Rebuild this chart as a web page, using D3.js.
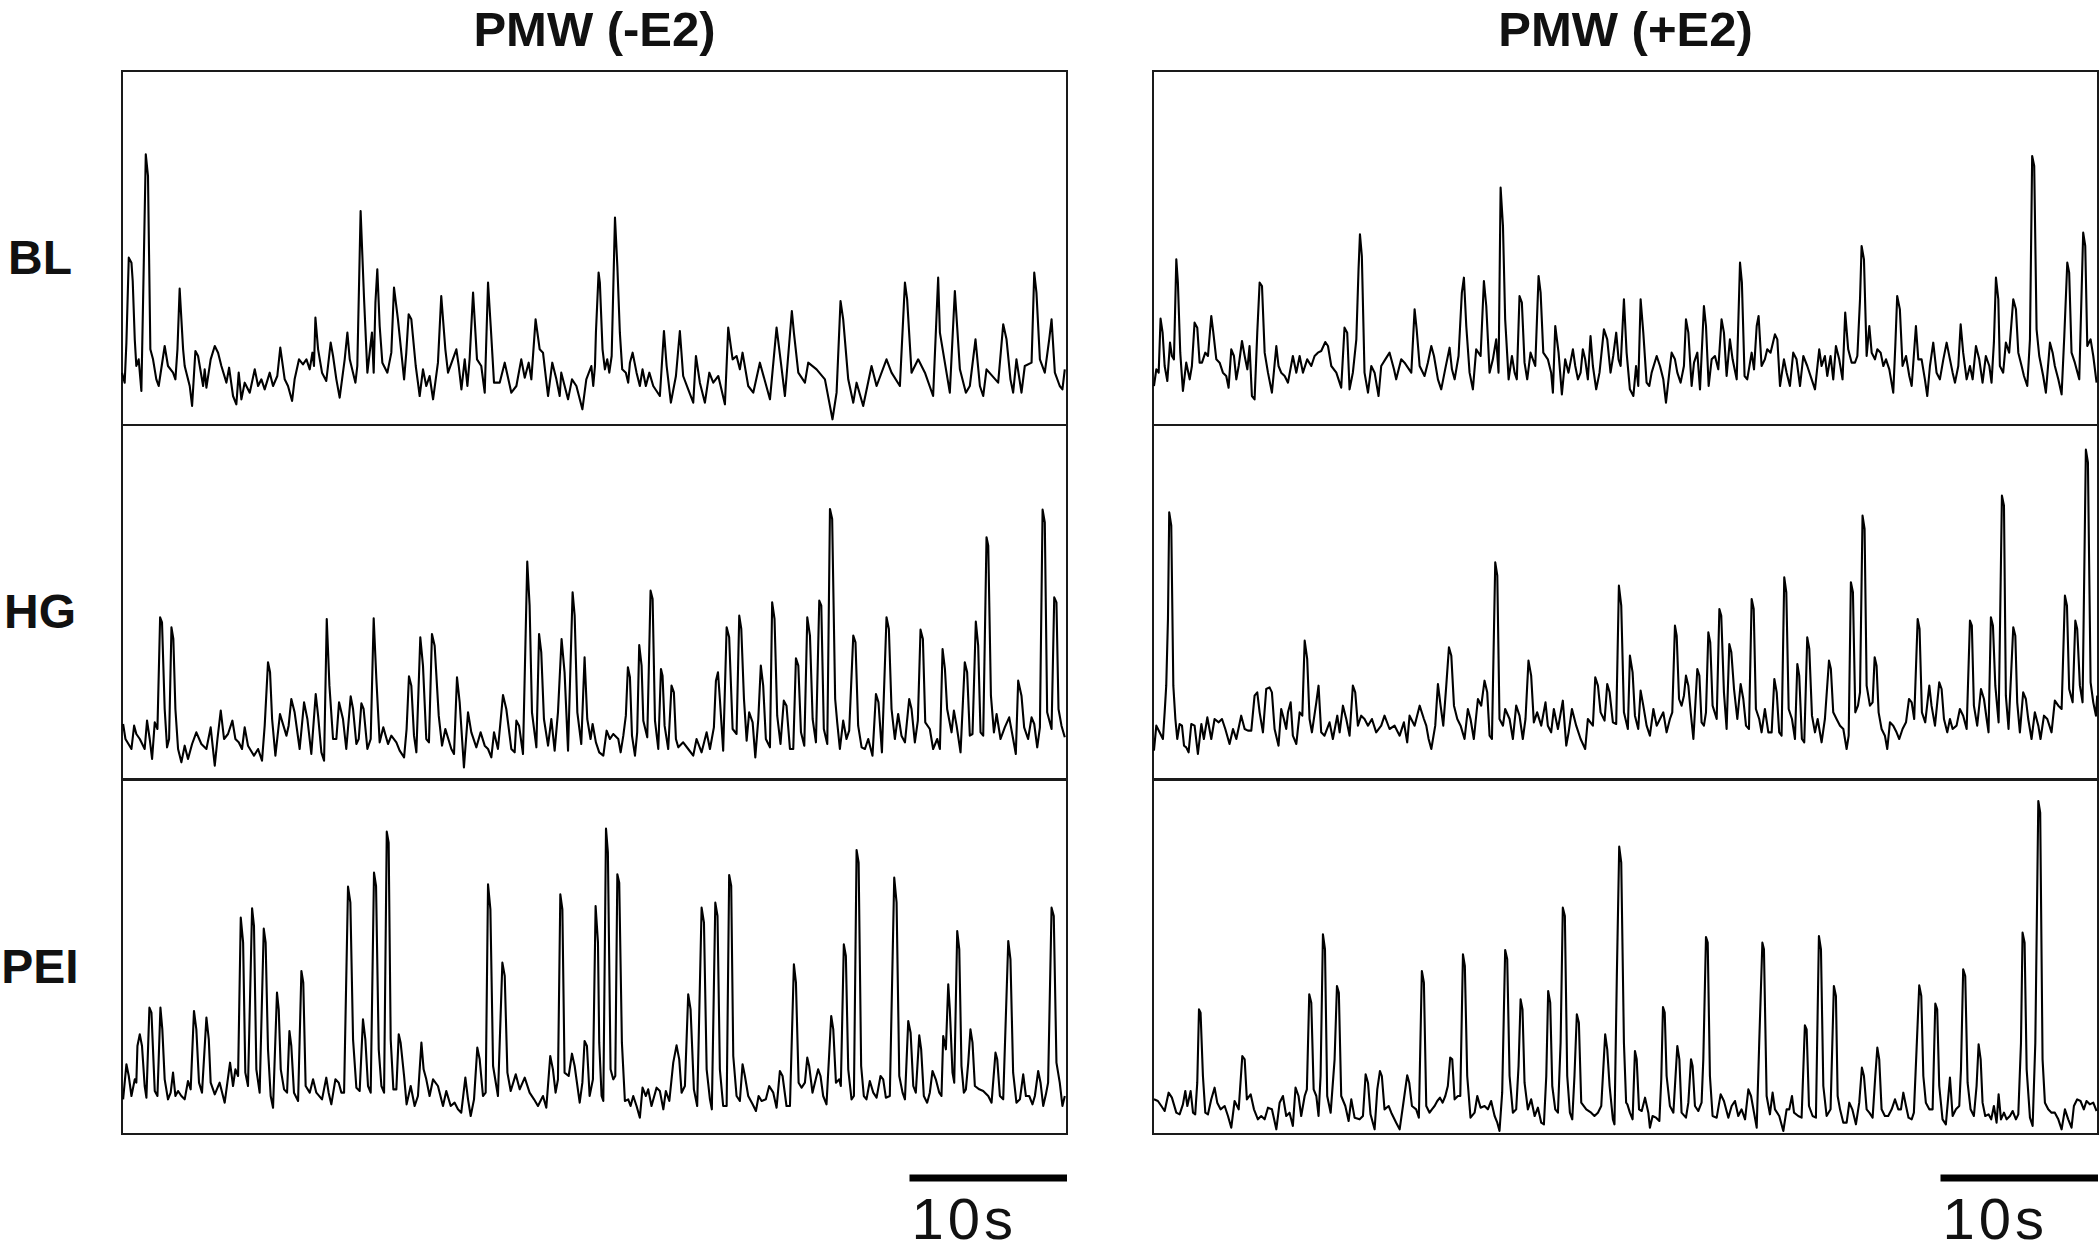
<!DOCTYPE html>
<html>
<head>
<meta charset="utf-8">
<script src="https://cdnjs.cloudflare.com/ajax/libs/d3/7.8.5/d3.min.js"></script>
<style>
  body { margin: 0; background: #fff; }
  text { font-family: Arial, "Liberation Sans", sans-serif; fill: #111; }
</style>
</head>
<body>
<svg width="2100" height="1252"></svg>
<script>
var conditions = ['PMW (-E2)', 'PMW (+E2)'];
var stages = ['BL', 'HG', 'PEI'];
var recordLength = 60;   // seconds shown in each trace
var scaleBarSeconds = 10;
var signalMax = 106.2;   // dF, arbitrary units, full height of a row

// each trace: [time (s), dF (a.u.)]
var blMinus = [[0.00,15.7],[0.17,12.7],[0.28,24.7],[0.43,50.2],[0.60,48.7],[0.68,43.2],[0.81,25.7],[0.91,17.7],[1.06,19.7],[1.23,10.2],[1.34,37.7],[1.51,81.2],[1.65,74.7],[1.80,22.7],[1.97,19.7],[2.18,13.7],[2.33,11.7],[2.71,23.7],[2.92,17.7],[3.24,15.7],[3.39,13.7],[3.52,22.7],[3.66,40.9],[3.88,22.7],[3.98,17.7],[4.30,11.7],[4.45,5.7],[4.66,22.2],[4.83,20.7],[5.15,11.7],[5.25,16.7],[5.36,11.2],[5.63,19.7],[5.89,23.7],[6.10,21.7],[6.31,17.7],[6.63,12.7],[6.80,17.2],[7.05,8.7],[7.26,6.2],[7.41,15.7],[7.58,7.7],[7.79,12.7],[8.11,9.7],[8.43,16.7],[8.64,11.7],[8.85,13.7],[9.06,10.7],[9.38,15.7],[9.59,11.7],[9.86,14.7],[10.05,23.2],[10.33,13.7],[10.54,11.7],[10.80,7.2],[10.96,13.7],[11.24,19.7],[11.49,18.2],[11.71,19.7],[11.92,16.7],[12.09,21.7],[12.19,17.7],[12.28,32.2],[12.45,22.7],[12.70,15.7],[12.97,13.2],[13.25,24.7],[13.40,20.7],[13.61,13.7],[13.82,8.2],[14.14,19.7],[14.31,27.7],[14.46,19.7],[14.82,12.7],[14.94,17.7],[15.15,64.2],[15.37,37.7],[15.58,15.7],[15.87,27.7],[15.98,15.7],[16.09,36.7],[16.21,46.7],[16.36,29.7],[16.53,18.7],[16.85,15.7],[17.10,21.7],[17.27,41.2],[17.52,31.7],[17.91,13.7],[18.05,21.7],[18.20,33.2],[18.37,31.7],[18.65,17.7],[18.79,12.7],[18.90,8.7],[19.11,16.7],[19.32,11.7],[19.53,14.7],[19.75,7.7],[20.06,18.7],[20.27,38.7],[20.53,22.7],[20.70,15.7],[21.23,22.7],[21.38,17.7],[21.55,10.7],[21.76,19.7],[21.93,11.7],[22.07,19.7],[22.29,39.7],[22.54,19.7],[22.81,17.7],[23.03,9.7],[23.24,42.7],[23.41,29.7],[23.62,12.7],[23.98,12.7],[24.30,18.7],[24.72,9.7],[25.04,11.7],[25.35,19.7],[25.57,14.2],[25.82,18.7],[25.99,13.7],[26.26,31.7],[26.52,22.7],[26.73,21.7],[27.05,8.7],[27.32,18.7],[27.58,13.7],[27.79,8.7],[27.89,15.7],[28.32,7.7],[28.57,13.7],[28.85,11.7],[29.23,4.7],[29.48,13.7],[29.80,17.7],[29.92,11.7],[30.03,17.7],[30.09,27.7],[30.26,45.7],[30.34,42.7],[30.51,22.7],[30.66,16.7],[30.81,19.7],[30.94,15.7],[31.09,20.7],[31.30,62.2],[31.45,47.7],[31.61,27.7],[31.76,16.7],[31.99,15.7],[32.14,12.7],[32.25,18.7],[32.42,21.7],[32.67,15.7],[32.88,11.7],[33.05,16.7],[33.26,11.7],[33.48,15.7],[33.73,11.7],[34.15,8.7],[34.41,28.2],[34.58,17.7],[34.85,6.7],[35.17,14.7],[35.42,28.2],[35.63,14.7],[35.95,10.7],[36.27,6.7],[36.44,20.7],[36.69,12.7],[37.01,6.7],[37.29,15.7],[37.54,12.7],[37.86,14.7],[38.28,6.2],[38.49,29.2],[38.77,19.7],[39.02,20.7],[39.23,16.7],[39.40,21.7],[39.76,11.7],[40.08,9.7],[40.50,18.7],[41.14,7.7],[41.56,29.2],[41.81,19.7],[42.09,8.7],[42.53,34.2],[42.66,27.7],[42.94,15.7],[43.36,12.7],[43.57,18.7],[44.10,16.7],[44.63,13.7],[45.11,1.7],[45.37,9.7],[45.62,37.2],[45.79,31.7],[46.11,13.7],[46.43,6.7],[46.64,12.7],[47.06,5.7],[47.59,17.7],[47.91,11.7],[48.54,19.7],[48.86,15.7],[49.39,11.7],[49.71,42.7],[49.85,37.7],[50.13,15.7],[50.55,19.7],[50.98,15.7],[51.50,8.7],[51.82,44.2],[51.93,27.7],[52.56,9.7],[52.88,40.2],[53.20,16.7],[53.58,9.7],[53.83,11.7],[54.19,25.7],[54.47,11.7],[54.68,8.7],[54.89,16.7],[55.63,12.7],[55.95,30.2],[56.16,25.7],[56.41,13.7],[56.58,9.7],[56.79,19.7],[57.11,9.7],[57.32,17.7],[57.75,18.7],[57.92,45.7],[58.06,39.7],[58.28,19.7],[58.59,15.7],[58.87,25.7],[59.02,31.7],[59.23,15.7],[59.54,11.7],[59.71,10.7],[59.86,16.7]];

var hgMinus = [[0.07,16.5],[0.22,12.0],[0.60,9.0],[0.77,16.0],[0.91,13.5],[1.13,12.0],[1.44,9.0],[1.59,17.5],[1.76,12.0],[1.91,6.0],[2.08,17.0],[2.25,15.0],[2.42,48.5],[2.54,47.0],[2.71,21.0],[2.86,9.5],[2.99,12.0],[3.14,45.5],[3.26,42.0],[3.39,21.0],[3.56,9.0],[3.77,5.0],[3.98,10.0],[4.19,6.0],[4.45,10.5],[4.72,14.0],[5.04,10.5],[5.36,9.0],[5.63,15.5],[5.89,4.0],[6.06,12.0],[6.27,20.5],[6.48,12.0],[6.73,13.5],[7.01,17.5],[7.20,12.0],[7.41,11.0],[7.62,9.0],[7.79,15.5],[8.00,10.0],[8.38,7.0],[8.64,9.0],[8.89,5.5],[9.06,16.0],[9.27,35.0],[9.40,32.0],[9.53,18.0],[9.74,7.0],[10.03,19.5],[10.25,16.0],[10.44,13.0],[10.58,16.0],[10.75,24.0],[10.96,20.0],[11.28,9.0],[11.56,23.0],[11.77,18.0],[12.02,7.5],[12.30,25.5],[12.45,19.0],[12.66,8.0],[12.83,5.5],[13.00,48.0],[13.17,28.0],[13.40,12.0],[13.61,12.0],[13.78,23.0],[14.03,18.0],[14.24,9.0],[14.52,24.8],[14.67,21.0],[14.88,10.5],[15.03,12.0],[15.20,22.7],[15.34,21.0],[15.58,9.0],[15.79,12.0],[15.98,48.2],[16.15,30.0],[16.36,11.0],[16.59,15.5],[16.89,10.5],[17.10,13.0],[17.42,11.0],[17.63,8.5],[17.91,6.5],[18.07,15.0],[18.22,30.8],[18.37,28.0],[18.54,13.0],[18.69,8.0],[18.94,42.5],[19.11,34.0],[19.32,12.0],[19.49,11.0],[19.68,43.5],[19.85,40.0],[20.11,19.0],[20.32,10.0],[20.53,15.0],[20.91,9.0],[21.08,7.5],[21.27,30.5],[21.44,23.0],[21.71,3.5],[21.97,20.0],[22.18,14.0],[22.50,9.5],[22.77,14.0],[23.03,10.0],[23.24,9.0],[23.45,6.5],[23.62,14.0],[23.87,9.0],[24.19,25.2],[24.40,21.0],[24.72,9.0],[24.93,8.0],[25.04,17.5],[25.21,16.0],[25.46,7.5],[25.73,65.2],[25.88,52.0],[26.03,20.0],[26.31,9.5],[26.48,43.5],[26.62,38.0],[26.79,18.0],[27.05,10.0],[27.26,18.0],[27.47,8.5],[27.68,20.0],[27.91,42.0],[28.10,32.0],[28.32,8.5],[28.61,56.0],[28.74,49.0],[28.91,20.0],[29.16,10.5],[29.37,36.5],[29.54,18.0],[29.75,12.0],[29.88,16.5],[30.09,11.0],[30.30,8.0],[30.56,7.0],[30.77,14.5],[30.98,12.0],[31.19,13.5],[31.51,12.0],[31.66,8.0],[31.83,13.0],[31.99,19.0],[32.12,33.5],[32.25,30.5],[32.38,13.0],[32.57,7.0],[32.71,14.0],[32.84,40.2],[32.99,34.0],[33.10,17.5],[33.35,12.5],[33.56,56.5],[33.69,54.0],[33.84,17.5],[34.05,9.0],[34.22,33.0],[34.32,31.0],[34.45,16.0],[34.68,9.0],[34.89,28.0],[35.04,26.0],[35.17,12.0],[35.32,9.5],[35.63,11.0],[35.95,9.0],[36.27,7.0],[36.48,12.0],[36.80,8.0],[37.12,14.0],[37.33,9.0],[37.58,15.5],[37.71,29.5],[37.84,32.0],[37.96,24.0],[38.17,8.5],[38.39,45.5],[38.55,42.5],[38.77,15.0],[39.02,13.5],[39.19,49.0],[39.32,45.0],[39.49,24.0],[39.66,11.5],[39.82,20.0],[40.04,17.0],[40.21,6.5],[40.40,18.0],[40.56,34.0],[40.71,28.0],[40.88,12.0],[41.14,9.5],[41.28,53.0],[41.43,48.0],[41.60,19.0],[41.81,10.5],[42.02,23.5],[42.19,22.0],[42.41,9.0],[42.62,9.0],[42.79,36.2],[42.94,34.0],[43.11,14.0],[43.32,10.0],[43.51,48.5],[43.68,43.0],[43.85,18.0],[44.06,11.0],[44.27,53.5],[44.40,52.0],[44.56,15.0],[44.78,10.5],[44.95,81.0],[45.09,78.0],[45.28,24.0],[45.41,17.0],[45.58,9.0],[45.79,17.5],[46.00,12.0],[46.17,14.5],[46.43,43.0],[46.57,41.0],[46.74,16.0],[46.96,9.5],[47.17,9.0],[47.38,12.0],[47.65,7.0],[47.87,25.5],[48.03,23.0],[48.25,8.0],[48.54,48.5],[48.69,45.0],[48.86,21.0],[49.07,12.0],[49.28,19.5],[49.49,13.0],[49.71,11.0],[49.98,24.0],[50.13,21.0],[50.34,11.0],[50.53,17.5],[50.70,44.8],[50.85,42.0],[51.00,17.0],[51.29,15.0],[51.50,9.0],[51.76,12.0],[51.93,9.0],[52.10,39.0],[52.25,33.0],[52.39,21.0],[52.67,14.0],[52.82,20.5],[52.99,16.0],[53.24,8.0],[53.51,35.0],[53.66,32.0],[53.83,13.0],[54.00,13.5],[54.21,47.2],[54.36,40.0],[54.51,14.0],[54.68,13.0],[54.89,72.5],[55.00,70.0],[55.17,25.0],[55.36,14.0],[55.53,19.5],[55.78,12.0],[56.05,15.5],[56.33,18.5],[56.58,12.0],[56.75,7.5],[56.90,29.5],[57.11,25.0],[57.28,15.5],[57.53,12.0],[57.75,18.5],[57.92,16.5],[58.11,9.5],[58.28,15.5],[58.45,80.8],[58.59,77.0],[58.74,20.0],[59.02,15.0],[59.19,54.5],[59.33,53.0],[59.46,21.0],[59.65,16.0],[59.86,12.5]];

var peiMinus = [[0.07,10.4],[0.28,20.9],[0.43,17.4],[0.60,11.4],[0.81,16.4],[0.91,15.4],[0.98,26.4],[1.13,29.9],[1.27,26.4],[1.44,14.4],[1.55,10.9],[1.74,37.9],[1.87,36.4],[2.08,12.9],[2.25,11.4],[2.44,37.9],[2.56,31.4],[2.71,16.4],[2.92,10.4],[3.09,12.4],[3.24,18.4],[3.39,11.4],[3.56,12.9],[3.77,11.4],[3.98,10.4],[4.19,15.9],[4.36,13.4],[4.57,36.9],[4.72,31.4],[4.89,15.4],[5.08,12.4],[5.36,34.9],[5.51,28.4],[5.63,15.4],[5.89,11.9],[6.20,15.4],[6.52,9.4],[6.69,15.4],[6.86,21.4],[7.05,14.4],[7.20,19.4],[7.37,17.4],[7.54,64.9],[7.69,57.4],[7.83,18.4],[8.00,14.4],[8.26,67.7],[8.38,62.4],[8.53,19.4],[8.74,12.4],[9.00,61.6],[9.12,57.4],[9.27,25.4],[9.44,11.4],[9.59,7.9],[9.84,42.4],[9.95,37.4],[10.08,19.4],[10.29,13.4],[10.48,12.4],[10.63,30.9],[10.75,26.4],[10.92,12.4],[11.18,9.9],[11.39,48.9],[11.51,45.4],[11.66,14.4],[11.92,12.4],[12.13,16.4],[12.34,12.4],[12.70,10.4],[12.97,16.9],[13.12,12.4],[13.29,8.9],[13.55,16.4],[13.76,15.4],[13.93,12.4],[14.10,12.4],[14.35,74.2],[14.50,69.4],[14.67,28.4],[14.88,13.9],[15.09,12.9],[15.30,34.4],[15.45,28.4],[15.62,14.4],[15.79,12.4],[16.00,78.4],[16.13,74.4],[16.30,25.4],[16.47,14.4],[16.64,12.4],[16.81,90.7],[16.93,87.4],[17.06,28.4],[17.23,13.4],[17.42,13.4],[17.57,29.9],[17.69,27.4],[17.91,17.4],[18.07,8.9],[18.33,14.4],[18.58,8.4],[18.79,11.4],[19.01,27.4],[19.15,19.4],[19.32,16.4],[19.53,11.4],[19.75,16.4],[20.06,14.4],[20.38,8.4],[20.59,12.9],[20.87,8.4],[21.12,9.4],[21.33,7.4],[21.54,6.4],[21.80,16.9],[21.97,10.4],[22.14,5.4],[22.35,10.4],[22.56,25.9],[22.71,22.4],[22.92,11.4],[23.09,12.4],[23.24,74.9],[23.39,67.4],[23.56,20.4],[23.87,11.4],[24.15,51.4],[24.30,47.4],[24.47,18.4],[24.68,12.9],[25.00,17.9],[25.25,13.4],[25.57,16.9],[25.88,12.4],[26.16,10.4],[26.41,8.4],[26.73,11.4],[26.94,7.9],[27.19,23.4],[27.36,19.4],[27.53,12.4],[27.68,16.4],[27.83,71.9],[27.96,67.4],[28.10,18.4],[28.36,17.4],[28.57,24.1],[28.74,20.4],[29.06,9.4],[29.23,15.4],[29.37,27.9],[29.52,26.4],[29.69,11.4],[29.90,16.4],[30.07,68.4],[30.22,57.4],[30.30,27.4],[30.45,11.4],[30.56,9.9],[30.73,91.6],[30.85,84.4],[31.02,19.4],[31.19,16.4],[31.32,17.4],[31.45,77.9],[31.57,75.4],[31.74,27.4],[31.93,9.9],[32.14,10.4],[32.29,8.4],[32.46,11.4],[32.67,8.4],[32.88,4.9],[33.05,13.9],[33.26,11.4],[33.41,13.4],[33.62,8.4],[33.94,13.9],[34.15,12.9],[34.37,7.4],[34.53,12.9],[34.75,9.9],[35.00,21.4],[35.21,26.6],[35.38,22.4],[35.53,12.4],[35.74,14.4],[35.95,41.9],[36.10,37.4],[36.31,13.4],[36.52,8.4],[36.80,67.9],[36.95,63.4],[37.12,19.4],[37.33,10.4],[37.45,7.4],[37.67,69.4],[37.81,65.4],[37.96,19.4],[38.17,8.4],[38.39,8.4],[38.55,77.7],[38.68,74.4],[38.81,23.4],[39.02,11.4],[39.23,9.9],[39.40,20.9],[39.55,17.4],[39.76,11.4],[40.04,8.9],[40.25,6.9],[40.42,11.4],[40.61,9.9],[40.88,10.4],[41.09,14.4],[41.35,12.4],[41.56,7.9],[41.77,18.9],[41.94,17.4],[42.19,8.4],[42.41,8.4],[42.66,50.9],[42.79,45.4],[42.96,15.4],[43.15,13.9],[43.36,15.4],[43.51,22.9],[43.63,20.4],[43.84,12.4],[44.20,19.4],[44.35,17.4],[44.52,11.4],[44.73,8.9],[45.03,35.4],[45.16,31.4],[45.33,15.4],[45.54,16.4],[45.64,14.4],[45.83,56.9],[45.96,53.4],[46.11,19.4],[46.32,10.4],[46.47,11.4],[46.64,85.2],[46.77,81.4],[46.93,20.4],[47.10,11.4],[47.27,10.4],[47.48,15.9],[47.70,12.4],[47.91,10.9],[48.16,17.4],[48.33,16.4],[48.50,10.9],[48.75,11.4],[49.03,76.9],[49.18,69.4],[49.35,17.4],[49.56,12.4],[49.71,10.4],[49.92,33.9],[50.07,30.4],[50.24,14.4],[50.40,12.4],[50.62,29.6],[50.74,25.4],[50.91,11.4],[51.12,9.4],[51.29,12.4],[51.46,18.9],[51.67,16.4],[51.89,12.4],[52.03,11.4],[52.14,29.4],[52.31,25.4],[52.46,44.9],[52.56,37.4],[52.73,18.4],[52.84,15.4],[53.03,60.9],[53.16,55.4],[53.30,20.4],[53.45,12.4],[53.58,13.4],[53.73,21.4],[53.87,31.4],[54.00,27.4],[54.15,14.4],[54.43,13.4],[54.68,12.9],[55.00,11.4],[55.21,9.4],[55.46,24.4],[55.57,22.4],[55.74,11.4],[55.95,10.4],[56.27,57.9],[56.41,52.4],[56.58,18.4],[56.79,9.4],[57.01,10.4],[57.22,17.9],[57.39,11.4],[57.60,11.4],[57.81,8.9],[57.96,11.4],[58.17,18.9],[58.32,15.4],[58.49,8.4],[58.66,11.9],[58.80,15.4],[59.02,67.9],[59.16,65.4],[59.33,21.4],[59.54,15.4],[59.71,8.4],[59.86,11.4]];

var blPlus = [[0.06,11.7],[0.21,16.7],[0.36,15.7],[0.48,31.9],[0.61,27.7],[0.74,17.7],[0.91,13.2],[1.08,24.7],[1.20,20.7],[1.33,19.7],[1.48,49.7],[1.58,42.7],[1.73,21.7],[1.90,10.2],[2.11,18.7],[2.33,13.7],[2.47,17.7],[2.64,30.7],[2.81,29.2],[2.96,18.7],[3.11,18.7],[3.32,21.7],[3.49,20.7],[3.70,32.7],[3.83,27.7],[4.02,19.7],[4.23,18.7],[4.44,15.7],[4.65,14.7],[4.80,11.2],[4.97,22.7],[5.14,20.7],[5.29,13.7],[5.44,17.7],[5.65,25.2],[5.82,20.7],[5.99,16.7],[6.13,23.7],[6.28,8.7],[6.45,7.7],[6.62,27.7],[6.77,42.7],[6.92,41.7],[7.09,21.7],[7.30,15.7],[7.55,9.7],[7.83,23.7],[7.97,17.7],[8.14,15.7],[8.36,14.7],[8.57,12.7],[8.88,20.7],[9.10,15.7],[9.31,20.7],[9.52,15.7],[9.79,19.7],[10.05,17.7],[10.26,20.7],[10.47,21.7],[10.68,22.2],[10.94,24.9],[11.11,23.7],[11.32,17.7],[11.64,15.7],[11.95,11.2],[12.16,29.2],[12.33,27.7],[12.48,10.7],[12.69,15.7],[12.91,25.7],[13.05,46.7],[13.14,57.2],[13.26,50.7],[13.43,15.7],[13.65,9.7],[13.86,17.7],[14.07,15.7],[14.32,8.7],[14.49,17.7],[14.75,19.7],[15.02,21.7],[15.30,16.7],[15.44,13.7],[15.76,19.7],[15.97,18.7],[16.40,15.7],[16.61,34.7],[16.74,28.7],[16.93,17.7],[17.24,14.7],[17.45,18.7],[17.67,23.7],[17.84,20.7],[18.09,13.7],[18.30,10.7],[18.55,16.7],[18.83,23.2],[18.98,16.7],[19.15,13.7],[19.40,20.7],[19.61,39.7],[19.74,44.2],[19.89,29.7],[20.10,15.7],[20.31,10.7],[20.52,22.7],[20.80,20.7],[21.01,43.2],[21.16,35.7],[21.37,15.7],[21.58,19.7],[21.79,25.7],[21.94,15.7],[22.07,71.2],[22.22,59.7],[22.36,31.7],[22.58,13.7],[22.79,20.7],[22.96,15.7],[23.10,13.7],[23.27,38.7],[23.42,36.7],[23.59,18.7],[23.76,13.7],[23.97,21.7],[24.12,19.7],[24.27,17.7],[24.48,44.7],[24.61,39.7],[24.78,21.7],[25.07,19.7],[25.28,15.7],[25.39,9.7],[25.54,29.7],[25.75,21.7],[25.96,9.2],[26.17,19.7],[26.38,15.7],[26.66,22.7],[26.81,17.7],[26.98,13.7],[27.15,15.7],[27.29,22.7],[27.44,19.7],[27.61,13.7],[27.78,26.7],[27.93,17.7],[28.14,10.7],[28.35,15.7],[28.63,28.7],[28.84,25.7],[29.05,15.7],[29.22,20.7],[29.41,27.7],[29.56,19.7],[29.69,17.7],[29.90,37.7],[30.07,21.7],[30.28,10.7],[30.50,8.7],[30.67,17.7],[30.81,11.7],[30.96,37.7],[31.13,27.7],[31.34,12.7],[31.51,11.7],[31.66,15.7],[31.98,20.7],[32.19,17.7],[32.40,13.7],[32.57,6.7],[32.78,15.7],[32.93,21.7],[33.14,19.7],[33.29,15.7],[33.50,12.7],[33.71,17.7],[33.84,31.7],[33.99,27.7],[34.20,11.7],[34.35,18.7],[34.56,21.7],[34.73,10.7],[34.98,35.7],[35.11,29.7],[35.28,11.7],[35.47,19.7],[35.68,20.7],[35.89,16.7],[36.10,31.7],[36.25,27.7],[36.42,14.7],[36.63,25.7],[36.80,19.7],[37.06,13.7],[37.27,48.7],[37.39,42.7],[37.56,14.7],[37.73,13.7],[38.01,21.7],[38.16,16.7],[38.33,29.7],[38.45,32.7],[38.64,17.7],[38.85,19.7],[39.00,22.7],[39.21,21.7],[39.49,27.2],[39.64,25.7],[39.81,11.7],[40.06,19.7],[40.23,15.7],[40.44,11.7],[40.65,21.7],[40.86,19.7],[41.08,11.7],[41.29,20.7],[41.54,17.7],[41.82,13.7],[42.03,10.7],[42.30,22.7],[42.45,17.7],[42.66,20.7],[42.81,14.7],[43.02,20.7],[43.19,13.7],[43.36,23.7],[43.57,19.7],[43.78,13.7],[43.95,33.7],[44.14,22.7],[44.36,18.7],[44.57,18.7],[44.72,20.7],[44.89,37.7],[44.99,53.7],[45.14,49.7],[45.31,20.7],[45.48,29.7],[45.63,21.7],[45.84,19.7],[45.99,22.7],[46.20,21.7],[46.37,17.7],[46.54,19.7],[46.75,16.7],[47.00,9.7],[47.13,23.7],[47.25,38.7],[47.42,34.7],[47.59,17.7],[47.81,20.7],[48.02,14.7],[48.17,11.7],[48.44,29.7],[48.59,19.7],[48.80,19.7],[49.01,13.7],[49.16,8.7],[49.33,17.7],[49.54,24.7],[49.75,15.7],[49.96,13.7],[50.18,19.7],[50.39,24.7],[50.60,19.7],[50.77,15.7],[50.92,12.7],[51.13,17.7],[51.28,30.2],[51.44,21.7],[51.66,13.7],[51.87,17.7],[52.04,13.7],[52.25,23.7],[52.46,19.7],[52.67,12.7],[52.88,20.7],[53.10,17.7],[53.24,12.7],[53.39,24.7],[53.52,44.2],[53.67,37.7],[53.77,17.7],[53.98,15.7],[54.15,24.7],[54.36,21.7],[54.62,37.7],[54.79,34.7],[54.94,21.7],[55.15,17.7],[55.30,14.7],[55.51,11.7],[55.68,25.7],[55.82,80.7],[55.95,77.7],[56.10,28.7],[56.27,20.7],[56.52,14.7],[56.69,9.7],[56.95,24.7],[57.12,21.7],[57.26,17.7],[57.48,13.7],[57.69,9.2],[57.86,26.7],[58.05,48.7],[58.17,45.7],[58.32,21.7],[58.53,18.7],[58.81,13.7],[59.06,57.7],[59.19,53.7],[59.32,23.7],[59.53,25.7],[59.70,20.7],[59.91,12.7]];

var hgPlus = [[0.06,8.5],[0.21,16.0],[0.42,14.0],[0.63,12.0],[0.74,20.0],[0.84,28.0],[0.95,48.0],[1.03,80.0],[1.16,76.0],[1.29,28.0],[1.42,18.0],[1.54,12.0],[1.69,16.5],[1.84,16.0],[1.97,10.0],[2.11,9.5],[2.26,8.0],[2.43,16.5],[2.64,16.0],[2.85,7.5],[3.07,16.5],[3.23,12.0],[3.45,18.5],[3.70,12.0],[3.91,18.0],[4.17,17.0],[4.38,18.0],[4.59,15.0],[4.86,10.5],[5.08,15.0],[5.29,12.0],[5.60,19.0],[5.82,15.0],[6.03,14.5],[6.24,14.5],[6.45,25.0],[6.62,26.0],[6.77,20.0],[6.98,14.0],[7.19,27.0],[7.40,27.5],[7.55,26.0],[7.72,15.0],[7.97,10.0],[8.14,21.0],[8.31,18.0],[8.46,15.0],[8.57,20.0],[8.74,23.0],[8.88,13.0],[9.10,10.5],[9.31,20.0],[9.48,19.0],[9.63,41.5],[9.79,36.0],[9.94,18.0],[10.09,14.0],[10.37,23.0],[10.51,28.0],[10.68,14.0],[10.89,13.0],[11.21,17.0],[11.42,12.0],[11.70,19.0],[11.85,14.0],[12.06,22.0],[12.27,18.0],[12.48,13.0],[12.69,28.0],[12.84,26.0],[13.01,16.0],[13.22,19.0],[13.43,18.0],[13.65,16.0],[13.90,18.0],[14.17,14.0],[14.49,16.0],[14.70,19.0],[15.02,15.0],[15.34,16.0],[15.66,13.0],[15.93,17.0],[16.14,11.0],[16.29,19.0],[16.61,16.0],[16.93,22.0],[17.20,18.0],[17.35,16.0],[17.50,12.0],[17.67,9.0],[17.92,16.0],[18.09,28.5],[18.26,22.0],[18.43,16.0],[18.62,28.0],[18.79,39.5],[18.94,37.0],[19.11,22.0],[19.32,18.0],[19.53,16.0],[19.78,12.0],[19.99,21.0],[20.16,18.0],[20.37,12.0],[20.63,24.0],[20.84,22.0],[21.05,29.5],[21.22,26.0],[21.37,13.0],[21.52,12.0],[21.73,65.0],[21.86,61.0],[22.00,18.0],[22.22,16.0],[22.36,21.0],[22.64,18.0],[22.85,12.0],[23.06,22.0],[23.27,19.0],[23.48,12.0],[23.65,18.0],[23.84,35.5],[24.01,31.0],[24.18,17.0],[24.39,20.0],[24.65,16.0],[24.92,23.0],[25.07,16.0],[25.28,14.0],[25.45,21.0],[25.71,15.0],[26.02,23.5],[26.24,10.0],[26.39,14.0],[26.60,21.0],[26.87,16.0],[27.15,12.0],[27.44,9.0],[27.61,18.0],[27.93,16.0],[28.08,30.5],[28.25,28.0],[28.42,20.0],[28.67,17.5],[28.84,28.5],[28.99,26.0],[29.20,17.0],[29.41,16.5],[29.58,58.0],[29.73,52.0],[29.90,20.0],[30.15,15.0],[30.28,37.0],[30.45,32.0],[30.60,19.0],[30.81,15.0],[30.96,26.5],[31.13,22.0],[31.34,16.0],[31.55,13.0],[31.77,21.0],[31.98,16.0],[32.19,18.0],[32.40,20.0],[32.61,14.0],[32.82,18.0],[32.97,20.0],[33.14,46.0],[33.25,43.0],[33.40,24.0],[33.56,22.0],[33.71,25.0],[33.84,31.0],[33.99,28.0],[34.14,20.0],[34.31,12.0],[34.56,33.0],[34.69,31.0],[34.83,17.0],[34.98,16.0],[35.11,20.0],[35.26,44.0],[35.38,41.0],[35.53,22.0],[35.79,18.0],[35.96,51.0],[36.08,49.0],[36.25,26.0],[36.42,15.0],[36.59,40.5],[36.72,38.0],[36.89,27.0],[37.10,18.0],[37.31,28.5],[37.48,24.0],[37.65,16.0],[37.84,15.0],[38.01,54.0],[38.14,51.0],[38.28,21.0],[38.49,18.0],[38.64,14.0],[38.85,21.0],[39.07,14.0],[39.28,14.0],[39.45,30.0],[39.60,26.0],[39.76,14.0],[39.91,13.0],[40.08,60.5],[40.21,56.0],[40.36,21.0],[40.57,18.0],[40.76,12.0],[40.91,34.5],[41.03,31.0],[41.20,12.0],[41.35,11.0],[41.54,42.5],[41.67,39.0],[41.84,19.0],[42.03,14.0],[42.20,18.0],[42.45,11.0],[42.66,18.0],[42.92,35.5],[43.04,33.0],[43.19,20.0],[43.40,18.0],[43.62,16.0],[43.83,15.0],[44.04,9.0],[44.17,13.0],[44.31,59.0],[44.44,56.0],[44.59,20.0],[44.76,22.0],[44.89,26.0],[45.05,79.0],[45.18,75.0],[45.31,28.0],[45.52,22.0],[45.69,23.0],[45.82,36.5],[45.94,34.0],[46.07,20.0],[46.26,15.0],[46.47,13.0],[46.62,9.0],[46.79,17.0],[47.00,16.0],[47.21,14.0],[47.38,12.0],[47.59,15.0],[47.81,17.0],[48.00,24.0],[48.17,23.0],[48.33,18.0],[48.55,48.0],[48.67,45.0],[48.82,20.0],[49.03,17.0],[49.29,28.0],[49.43,22.0],[49.65,16.0],[49.92,29.0],[50.07,27.0],[50.22,18.0],[50.43,14.0],[50.60,18.0],[50.77,15.0],[51.02,16.0],[51.23,21.0],[51.44,19.0],[51.66,15.0],[51.87,47.5],[51.99,46.0],[52.12,22.0],[52.33,16.0],[52.57,27.0],[52.76,24.0],[52.93,18.0],[53.05,14.0],[53.20,48.5],[53.33,46.0],[53.48,28.0],[53.69,17.0],[53.90,85.0],[54.03,82.0],[54.15,25.0],[54.32,15.0],[54.62,45.5],[54.75,43.0],[54.87,23.0],[55.04,14.0],[55.25,26.0],[55.42,24.0],[55.57,18.0],[55.78,12.0],[55.99,20.0],[56.21,16.0],[56.35,12.0],[56.57,19.0],[56.78,18.0],[57.05,14.0],[57.26,23.5],[57.48,22.0],[57.69,21.0],[57.90,55.0],[58.03,52.0],[58.17,27.0],[58.39,23.0],[58.56,47.5],[58.68,45.0],[58.85,28.0],[59.02,23.0],[59.23,98.8],[59.36,95.0],[59.53,29.0],[59.70,23.0],[59.87,19.0],[59.95,25.0]];

var peiPlus = [[0.06,10.4],[0.31,9.9],[0.53,8.4],[0.74,6.9],[0.99,12.4],[1.20,10.9],[1.48,6.4],[1.69,5.9],[1.90,8.9],[2.05,12.9],[2.18,8.4],[2.39,12.9],[2.54,6.4],[2.68,5.9],[2.81,15.4],[2.92,37.4],[3.02,36.4],[3.17,17.4],[3.32,6.4],[3.49,5.9],[3.70,10.4],[3.91,13.9],[4.08,9.4],[4.29,7.4],[4.55,8.4],[4.76,5.4],[4.97,1.9],[5.18,9.9],[5.44,7.4],[5.67,23.4],[5.82,22.4],[5.96,10.4],[6.20,11.9],[6.41,7.4],[6.66,4.4],[6.87,5.4],[7.09,4.4],[7.30,7.9],[7.55,7.4],[7.83,1.4],[8.04,9.4],[8.25,11.4],[8.46,5.4],[8.67,6.4],[8.88,2.4],[9.05,13.9],[9.24,11.4],[9.41,5.4],[9.63,11.4],[9.77,13.4],[9.92,41.9],[10.05,39.4],[10.20,13.4],[10.37,11.4],[10.51,5.4],[10.64,17.4],[10.79,59.9],[10.92,55.4],[11.06,11.4],[11.28,6.4],[11.53,22.4],[11.68,44.4],[11.80,42.4],[11.95,11.4],[12.21,8.4],[12.42,3.9],[12.59,10.4],[12.80,4.9],[13.12,4.4],[13.33,5.4],[13.50,17.9],[13.65,15.4],[13.81,5.9],[14.07,1.4],[14.24,13.4],[14.41,18.9],[14.53,17.4],[14.70,7.4],[14.96,8.4],[15.13,6.4],[15.44,3.4],[15.66,1.4],[15.87,8.4],[16.14,17.6],[16.27,15.4],[16.44,8.4],[16.71,7.4],[16.88,4.9],[17.07,48.9],[17.20,45.4],[17.35,8.4],[17.56,6.4],[17.71,7.4],[17.88,8.4],[18.05,9.9],[18.22,10.9],[18.39,9.4],[18.56,11.4],[18.72,14.4],[18.87,22.9],[19.00,22.4],[19.15,10.4],[19.36,11.4],[19.51,11.4],[19.68,53.9],[19.80,50.4],[19.95,17.4],[20.16,4.9],[20.42,6.4],[20.59,11.4],[20.80,7.9],[21.05,8.4],[21.26,7.4],[21.47,9.9],[21.69,5.4],[21.86,3.4],[22.00,0.9],[22.17,12.4],[22.36,55.2],[22.49,52.4],[22.64,17.4],[22.85,6.4],[23.06,7.4],[23.21,20.4],[23.34,40.4],[23.46,37.4],[23.59,15.4],[23.80,7.4],[24.01,10.4],[24.23,5.4],[24.44,7.9],[24.65,3.4],[24.82,2.9],[24.97,17.4],[25.09,42.9],[25.22,39.4],[25.35,14.4],[25.54,7.4],[25.71,6.4],[25.88,27.4],[26.02,67.9],[26.15,65.4],[26.30,17.4],[26.47,6.4],[26.62,4.4],[26.76,17.4],[26.91,35.9],[27.04,33.4],[27.19,9.4],[27.51,7.4],[27.82,6.4],[28.03,5.4],[28.25,6.4],[28.46,8.4],[28.71,29.9],[28.84,25.4],[28.99,14.4],[29.20,4.4],[29.30,2.9],[29.45,47.4],[29.60,86.2],[29.73,81.4],[29.90,27.4],[30.04,9.4],[30.12,8.9],[30.28,6.4],[30.45,4.4],[30.60,24.9],[30.71,22.4],[30.86,7.4],[31.03,6.9],[31.24,10.9],[31.45,6.4],[31.55,1.9],[31.72,5.4],[31.94,4.9],[32.15,3.9],[32.27,16.4],[32.38,38.1],[32.49,36.4],[32.61,17.4],[32.82,8.4],[33.04,6.4],[33.29,26.4],[33.42,22.4],[33.56,6.4],[33.84,4.9],[33.99,9.4],[34.16,22.4],[34.26,20.4],[34.41,8.4],[34.62,6.9],[34.83,9.4],[34.94,22.4],[35.11,59.1],[35.22,57.4],[35.36,17.4],[35.53,5.4],[35.79,4.9],[36.04,11.9],[36.25,9.9],[36.53,4.9],[36.74,8.4],[36.95,9.9],[37.16,5.4],[37.37,7.4],[37.59,4.4],[37.80,13.4],[37.97,11.4],[38.16,6.4],[38.33,1.9],[38.49,27.4],[38.69,57.4],[38.79,55.4],[38.96,11.4],[39.17,5.9],[39.34,12.4],[39.49,7.4],[39.76,5.4],[40.02,0.9],[40.23,7.4],[40.40,7.4],[40.57,11.4],[40.70,6.4],[40.97,5.4],[41.18,4.9],[41.39,32.6],[41.50,31.4],[41.65,8.4],[41.88,5.4],[42.09,4.9],[42.28,59.4],[42.41,55.4],[42.56,14.4],[42.77,5.4],[43.02,7.4],[43.23,44.4],[43.36,41.4],[43.47,11.4],[43.62,7.4],[43.83,3.4],[44.04,3.4],[44.21,9.4],[44.40,7.4],[44.63,2.9],[44.84,9.4],[45.01,19.9],[45.14,17.4],[45.31,7.4],[45.48,6.4],[45.69,4.9],[45.86,17.4],[45.99,25.9],[46.11,22.4],[46.26,7.4],[46.47,5.4],[46.68,5.4],[46.90,7.4],[47.11,10.4],[47.32,7.4],[47.49,7.4],[47.64,12.4],[47.81,8.4],[47.97,4.9],[48.17,4.4],[48.31,6.4],[48.48,25.4],[48.65,44.6],[48.78,41.4],[48.91,17.4],[49.07,9.4],[49.29,7.4],[49.50,7.4],[49.67,39.1],[49.79,37.4],[49.92,14.4],[50.13,4.4],[50.34,2.9],[50.60,16.9],[50.77,5.4],[50.98,7.4],[51.19,8.4],[51.30,19.4],[51.44,49.4],[51.57,47.4],[51.72,15.4],[51.91,7.4],[52.12,5.4],[52.29,14.4],[52.42,26.9],[52.55,22.4],[52.67,9.4],[52.84,5.4],[53.05,5.9],[53.22,4.4],[53.39,8.4],[53.56,3.4],[53.69,11.9],[53.84,4.4],[54.03,6.4],[54.20,4.4],[54.41,5.4],[54.58,6.9],[54.79,4.4],[54.94,5.9],[55.11,27.4],[55.21,60.4],[55.34,57.4],[55.47,19.4],[55.68,4.9],[55.85,2.4],[56.02,27.4],[56.21,99.9],[56.33,96.4],[56.48,22.4],[56.63,9.4],[56.84,7.4],[57.05,6.4],[57.26,6.4],[57.48,4.4],[57.69,1.4],[57.90,7.4],[58.11,4.4],[58.32,1.9],[58.47,8.4],[58.68,10.4],[58.89,9.9],[59.10,7.4],[59.27,9.9],[59.48,8.9],[59.70,9.4],[59.91,6.9]];

var traces = [
  [blMinus, hgMinus, peiMinus],
  [blPlus, hgPlus, peiPlus]
];

var svg = d3.select("svg"),
    width = +svg.attr("width"),
    height = +svg.attr("height");

svg.append("rect").attr("width", width).attr("height", height).attr("fill", "#fff");

var panelLeft = [122, 1153],
    panelWidth = 945,
    rowTop = [71, 425, 780],
    rowHeight = 354;

var xScales = panelLeft.map(function(l) {
  return d3.scaleLinear().domain([0, recordLength]).range([l, l + panelWidth]);
});
var yScales = rowTop.map(function(t) {
  return d3.scaleLinear().domain([0, signalMax]).range([t + rowHeight, t]);
});

conditions.forEach(function(cond, c) {
  var x = xScales[c];

  svg.append("text")
    .attr("x", (x.range()[0] + x.range()[1]) / 2)
    .attr("y", 46)
    .attr("text-anchor", "middle")
    .style("font-size", "49px")
    .style("font-weight", "bold")
    .text(cond);

  stages.forEach(function(st, r) {
    var y = yScales[r];
    var g = svg.append("g").attr("class", "panel");

    g.append("rect")
      .attr("x", x.range()[0])
      .attr("y", y.range()[1])
      .attr("width", x.range()[1] - x.range()[0])
      .attr("height", y.range()[0] - y.range()[1])
      .attr("fill", "none")
      .attr("stroke", "#1a1a1a")
      .attr("stroke-width", 2);

    var line = d3.line()
      .x(function(d) { return x(d[0]); })
      .y(function(d) { return y(d[1]); });

    g.append("path")
      .datum(traces[c][r])
      .attr("d", line)
      .attr("fill", "none")
      .attr("stroke", "#000")
      .attr("stroke-width", 2.1)
      .attr("stroke-linejoin", "round");
  });

  // scale bar, right aligned under the bottom row
  var barY = 1178;
  svg.append("line")
    .attr("x1", x(recordLength - scaleBarSeconds))
    .attr("x2", x(recordLength))
    .attr("y1", barY).attr("y2", barY)
    .attr("stroke", "#000")
    .attr("stroke-width", 7);

  svg.append("text")
    .attr("x", x(recordLength - scaleBarSeconds) + 2)
    .attr("y", 1239)
    .style("font-size", "58px")
    .style("letter-spacing", "4px")
    .text(scaleBarSeconds + "s");
});

stages.forEach(function(st, r) {
  var y = yScales[r];
  svg.append("text")
    .attr("x", 40)
    .attr("y", (y.range()[0] + y.range()[1]) / 2 + 26)
    .attr("text-anchor", "middle")
    .style("font-size", "48px")
    .style("font-weight", "bold")
    .text(st);
});
</script>
</body>
</html>
